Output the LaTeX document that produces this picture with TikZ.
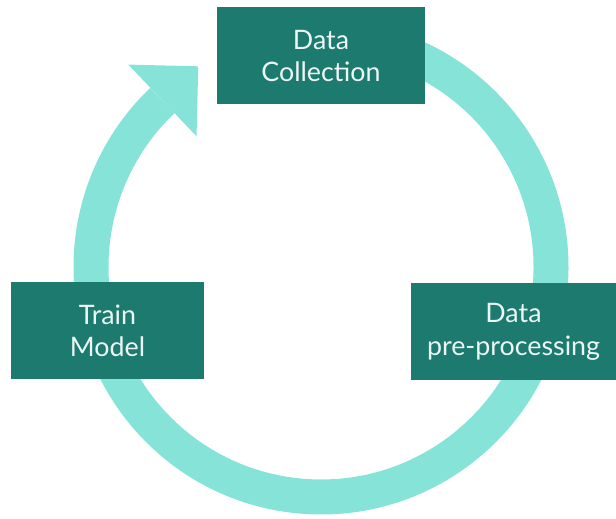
\documentclass[tikz,border=0pt]{standalone}
\usepackage{fontspec}
\setmainfont{Lato}
\definecolor{boxteal}{RGB}{28,122,110}
\definecolor{ringteal}{RGB}{134,227,216}
\definecolor{labelwhite}{RGB}{236,246,244}

\begin{document}
\begin{tikzpicture}[x=1pt, y=1pt, every node/.style={rectangle, fill=boxteal, text=labelwhite, align=center, inner sep=0pt, minimum height=97pt, font=\fontsize{26.8}{32.5}\selectfont}]
                \useasboundingbox (0,0) rectangle (616,519);
                \coordinate (ctr) at (321,252);
                % ring with its arrow head
                \draw[ringteal, line width=35pt] ([shift={(85:230)}]ctr) arc (85:-226.4:230);
                \begin{scope}[shift={([shift={(133.6:230)}]ctr)}, rotate=43.6]
                \fill[ringteal] (0,-49.5) -- (49.5,0) -- (0,49.5) -- cycle;
                \end{scope}
                \node[minimum width=208pt] (dc) at (321,463) {Data\\Collection};
                \node[minimum width=205pt] (pp) at (513.5,187) {Data\\pre-processing};
                \node[minimum width=193pt] (tm) at (107.5,188) {Train\\Model};
                \end{tikzpicture}
\end{document}
